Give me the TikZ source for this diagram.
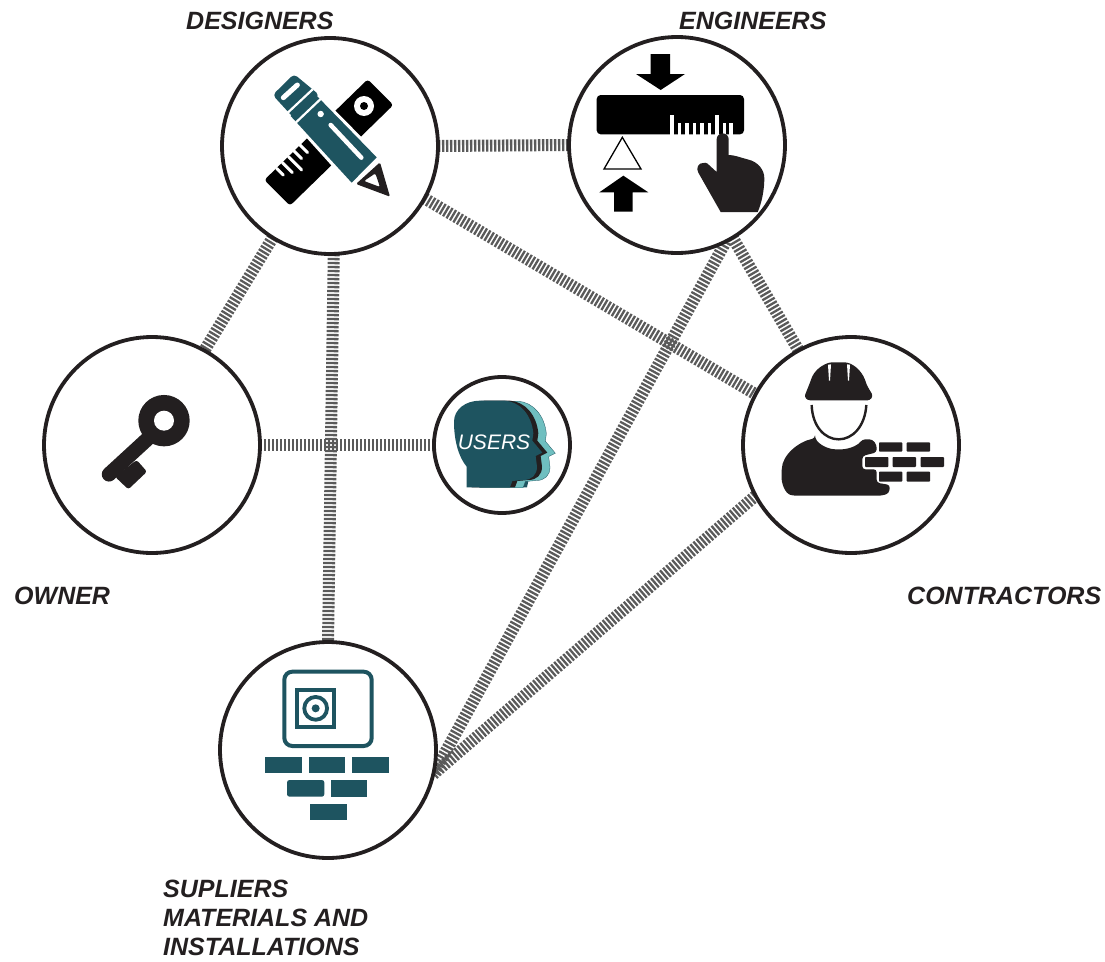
\documentclass[tikz,border=0pt]{standalone}
\usepackage{fontspec}
\setmainfont{Liberation Sans}
\usetikzlibrary{backgrounds}
\definecolor{ink}{HTML}{231F20}
\definecolor{teal}{HTML}{1E5460}
\definecolor{lteal}{HTML}{6FBFC0}
\definecolor{hatch}{HTML}{5A5A5A}
\tikzset{
  hub/.style={circle,draw=ink,fill=white,line width=3.8pt,inner sep=0pt,outer sep=0pt,minimum size=216pt},
  smallhub/.style={hub,minimum size=136pt},
  link/.style={draw=hatch,line width=12pt,dash pattern=on 2.3pt off 1.7pt},
  lab/.style={anchor=west,text=ink,inner sep=0pt,font=\fontsize{25}{29}\selectfont\bfseries\itshape},
  zm/.style 2 args={shift={(#1,#2)},x=0.33333pt,y=-0.33333pt},
  wline/.style={draw=white,line cap=round}
}
\begin{document}
\begin{tikzpicture}[x=1pt,y=-1pt]
\useasboundingbox (0,0) rectangle (1105,961);
\node[hub] (designers) at (330,146) {};
\node[hub] (engineers) at (677,145) {};
\node[hub] (contractors) at (851,445) {};
\node[hub] (owner) at (152,445) {};
\node[smallhub] (users) at (502,445) {};
\node[hub] (suppliers) at (328,750) {};
\begin{scope}[on background layer]
  \draw[link] (designers.0) -- (engineers.180);
  \draw[link] (designers.-122) -- (owner.61);
  \draw[link] (designers.-88) -- (suppliers.90);
  \draw[link] (designers.-29.6) -- (contractors.152);
  \draw[link] (engineers.-59.5) -- (contractors.119.6);
  \draw[link] (engineers.-63) -- (suppliers.-13);
  \draw[link] (contractors.-152.5) -- (suppliers.-13);
  \draw[link] (owner.0) -- (users.180);
\end{scope}
% labels
\node[lab] (ldes) at (186,21) {DESIGNERS};
\node[lab] (leng) at (679,21) {ENGINEERS};
\node[lab] (lown) at (14,596) {OWNER};
\node[lab] (lcon) at (907,596) {CONTRACTORS};
\node[lab,anchor=north west,align=left] (lsup) at (163,880) {SUPLIERS\\MATERIALS AND\\INSTALLATIONS};
% designers icon
\begin{scope}[zm={220}{30}]
  \fill[black,rounded corners=3pt] (443,148) -- (520,225) -- (210,527) -- (133,450) -- cycle;
  \fill[white] (432,228) circle[radius=10pt];
  \fill[black] (432,228) circle[radius=4pt];
  \foreach \a/\b/\c/\d in {170/415/190/435,187/398/217/428,205/380/245/420,222/363/245/386,240/345/263/368}
    \draw[wline,line width=3pt] (\a,\b) -- (\c,\d);
  \draw[white,line width=7pt,line join=round] (222,132) -- (158,195) -- (395,458) -- (470,382) -- cycle;
  \fill[teal,rounded corners=4pt] (222,132) -- (158,195) -- (225,268) -- (298,195) -- cycle;
  \fill[teal] (285,192) -- (470,382) -- (395,458) -- (212,258) -- cycle;
  \draw[white,line width=2.2pt] (278,178) -- (198,253);
  \draw[white,line width=2.2pt] (304,205) -- (224,281);
  \draw[white,line width=5pt,line cap=round] (190,203) -- (232,165);
  \fill[white] (302,252) circle[radius=3.2pt];
  \draw[wline,line width=4.5pt] (332,285) -- (424,383);
  \fill[ink,rounded corners=1.5pt,even odd rule] (480,397) -- (510,500) -- (408,462) -- cycle (466,430) -- (432,453) -- (480,471) -- cycle;
\end{scope}
% engineers icon
\begin{scope}[zm={560}{30}]
  \fill[black] (272,72) -- (330,72) -- (330,132) -- (375,132) -- (302,180) -- (228,132) -- (272,132) -- cycle;
  \fill[black,rounded corners=4pt] (110,195) rectangle (552,313);
  \foreach \t/\h in {336/255,358/278,381/278,403/278,426/278,448/278,471/255,493/278,513/278}
    \fill[white] (\t-5,\h) rectangle (\t+5,314);
  \draw[draw=black,fill=white,line width=1.3pt] (187,322) -- (243,417) -- (132,417) -- cycle;
  \fill[black] (190,437) -- (265,487) -- (218,487) -- (218,545) -- (162,545) -- (162,487) -- (118,487) -- cycle;
\end{scope}
\begin{scope}[zm={660}{100}]
  \fill[ink] (170,118) arc[start angle=180,end angle=0,radius=6pt] -- (206,165)
    .. controls (222,165) and (240,172) .. (262,178)
    .. controls (295,185) and (313,210) .. (313,235)
    .. controls (313,270) and (305,310) .. (293,336)
    -- (182,336) -- (115,218)
    .. controls (102,192) and (135,178) .. (148,196)
    -- (170,216) -- cycle;
\end{scope}
% contractors icon
\begin{scope}[zm={735}{330}]
  \fill[ink,rounded corners=2.5pt] (208,200) -- (226,155) .. controls (236,125) and (255,108) .. (285,97) -- (335,97) .. controls (365,108) and (385,130) .. (395,165) -- (414,197) -- (405,211) -- (218,211) -- cycle;
  \fill[white] (279,104) -- (288,103) -- (285,152) -- (282,152) -- cycle;
  \fill[white] (336,103) -- (345,104) -- (342,152) -- (339,152) -- cycle;
  \draw[ink,line width=2.4pt] (230,225) .. controls (232,290) and (270,328) .. (311,328) .. controls (352,328) and (390,290) .. (394,225);
  \fill[ink,rounded corners=3pt] (240,325) .. controls (262,352) and (290,358) .. (310,358) .. controls (335,358) and (365,350) .. (382,328)
    -- (412,328) -- (425,345) -- (425,367) -- (382,378) -- (382,418) -- (425,418) -- (425,458) -- (465,465) -- (462,490) -- (440,497) -- (175,497)
    .. controls (150,490) and (138,460) .. (140,425) .. controls (142,375) and (190,335) .. (240,325) -- cycle;
  \foreach \a/\b/\c/\d in {432/337/502/365,515/337/585/365,390/381/460/411,473/381/543/411,557/381/627/411,432/425/502/455,515/425/585/455}
    \fill[ink,rounded corners=0.8pt] (\a,\b) rectangle (\c,\d);
\end{scope}
% owner icon
\begin{scope}[zm={40}{330}]
  \draw[ink,line width=14.5pt,line cap=round] (330,320) -- (207,433);
  \fill[ink,rounded corners=2.5pt] (290,390) -- (321,425) -- (265,478) -- (225,440) -- cycle;
  \fill[ink] (372,272) circle[radius=25.7pt];
  \fill[white] (372,272) circle[radius=10pt];
\end{scope}
% users icon
\begin{scope}[zm={425}{370}]
  \def\headshape{(87,155) .. controls (87,118) and (122,92) .. (165,92) -- (240,92)
    .. controls (285,95) and (320,135) .. (325,190) -- (322,212) -- (352,248) -- (332,258) -- (336,290)
    .. controls (336,315) and (320,330) .. (295,330) -- (262,333) -- (255,352) -- (125,352) -- (125,290)
    .. controls (100,260) and (87,210) .. (87,155) -- cycle}
  \fill[teal] (290,333) -- (310,333) -- (306,352) -- (288,352) -- cycle;
  \begin{scope}[shift={(13pt,-0.5pt)}]
    \fill[lteal,draw=teal,line width=0.3pt] \headshape;
  \end{scope}
  \begin{scope}[shift={(5pt,0pt)}]
    \fill[ink] \headshape;
  \end{scope}
  \fill[teal] \headshape;
\end{scope}
\node[text=white,inner sep=0pt,font=\fontsize{21}{21}\selectfont\itshape] (usertext) at (494,442) {USERS};
% suppliers icon
\begin{scope}[zm={215}{640}]
  \draw[teal,line width=4pt,rounded corners=8pt] (208,95) rectangle (470,318);
  \draw[teal,line width=4pt] (247,151) rectangle (358,261);
  \draw[teal,line width=3.8pt] (302,205) circle[radius=11.4pt];
  \fill[teal] (302,205) circle[radius=4pt];
  \foreach \a/\b/\c/\d in {150/351/261/399,281/351/390/399,411/351/521/399,347/420/455/470,285/491/395/539}
    \fill[teal] (\a,\b) rectangle (\c,\d);
  \fill[teal,rounded corners=2.5pt] (216,420) -- (328,420) -- (328,470) -- (216,470) -- cycle;
\end{scope}
\end{tikzpicture}
\end{document}
